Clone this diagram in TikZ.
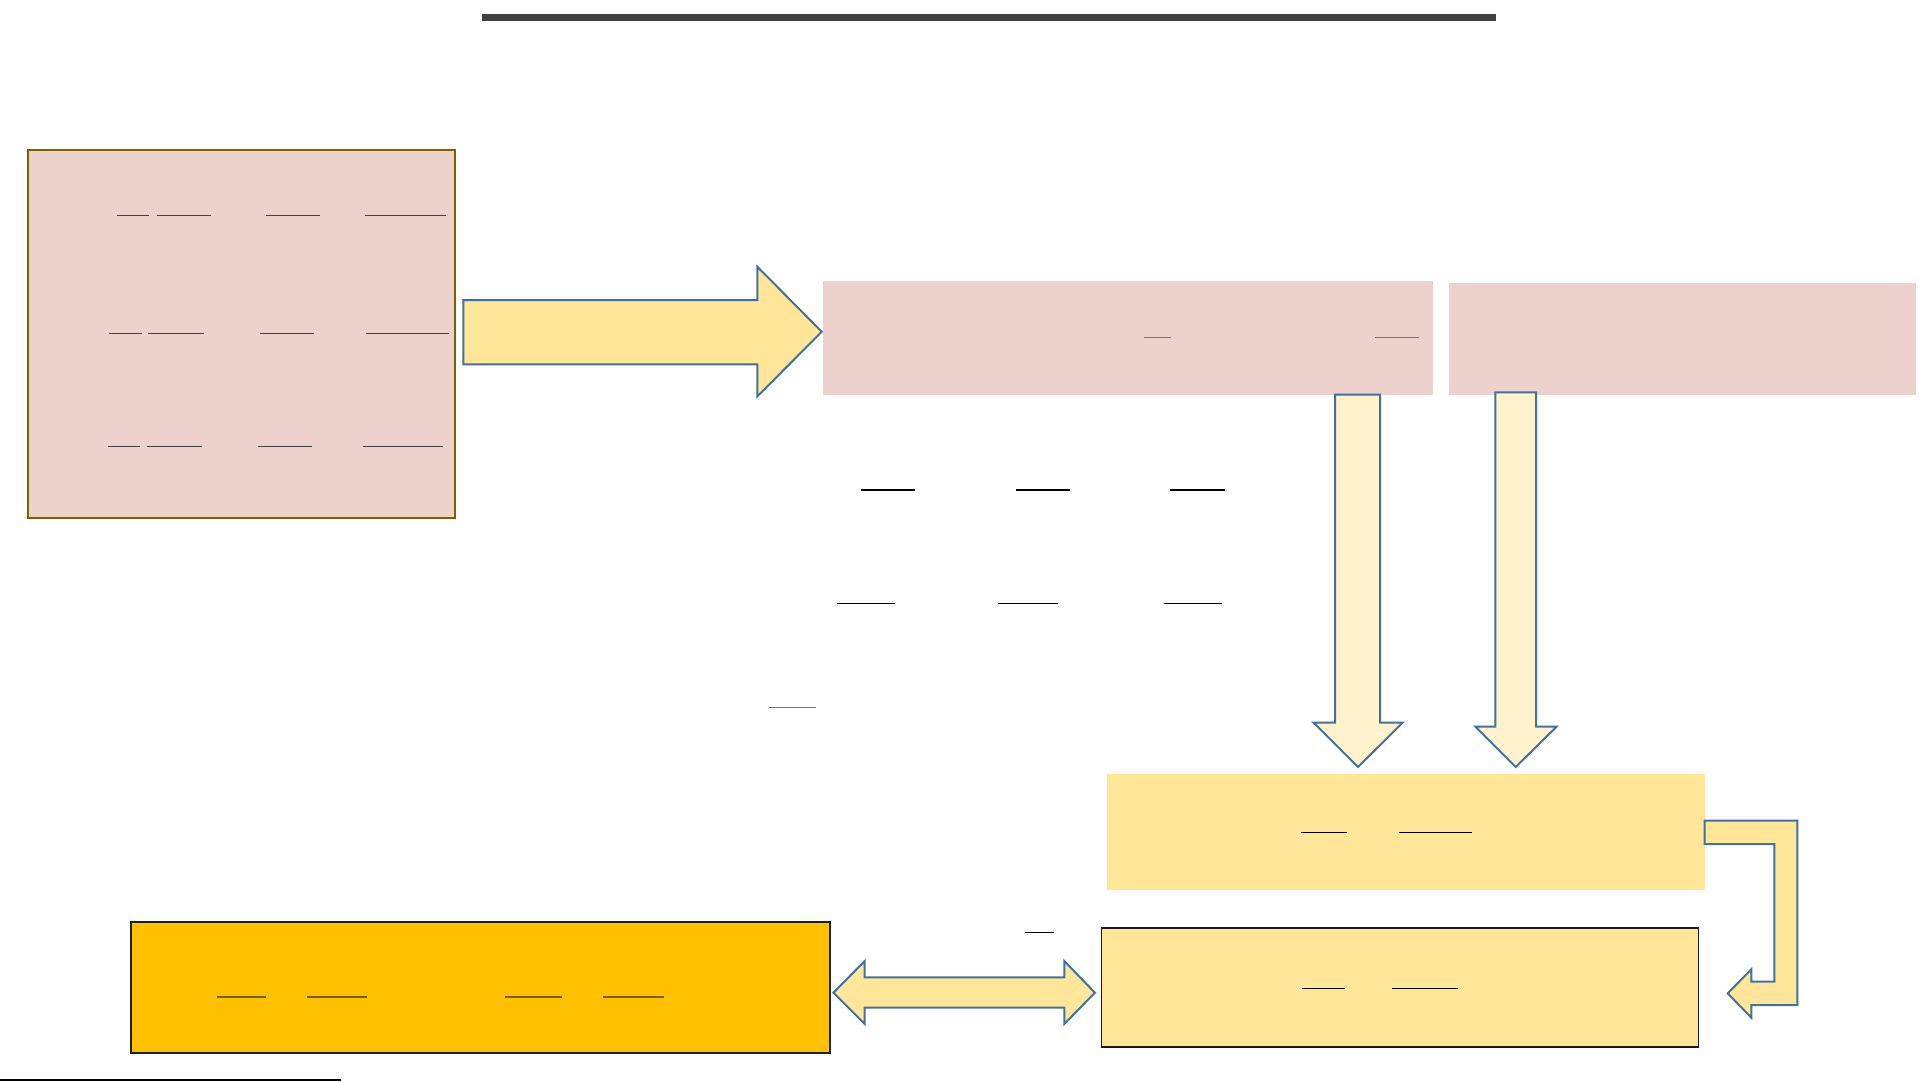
\documentclass[tikz,border=0pt]{standalone}
\usepackage{tikz}
\definecolor{pinkbox}{HTML}{ECD1CD}
\definecolor{yelbox}{HTML}{FFE699}
\definecolor{lightyel}{HTML}{FFF2CC}
\definecolor{orangebox}{HTML}{FFC000}
\definecolor{arrowblue}{HTML}{41719C}
\definecolor{olive}{HTML}{7F6000}
\definecolor{topbar}{HTML}{404040}
\definecolor{ulgray}{HTML}{4A3E3C}
\definecolor{ulbrown}{HTML}{7A5A10}
\tikzset{
  boxstyle/.style={rectangle, anchor=north west, inner sep=0pt, outer sep=0pt},
  blockarrow/.style={draw=arrowblue, line width=2pt, line join=miter},
  uline/.style={line width=1.3pt, black},
}
\begin{document}
\begin{tikzpicture}[x=1pt,y=-1pt]
\useasboundingbox (0,0) rectangle (1921,1081);
% top bar
\fill[topbar] (482,14) rectangle (1496,21);
% bottom-left line
\draw[line width=1.2pt, black] (0,1080) -- (341,1080);

% left pink box
\node[boxstyle, fill=pinkbox, draw=olive, line width=1.8pt, minimum width=427.3pt, minimum height=367.7pt] (leftbox) at (27.7,150) {};
% middle pink box
\node[boxstyle, fill=pinkbox, minimum width=609.6pt, minimum height=113.4pt] (midbox) at (823.3,281.3) {};
% right pink box
\node[boxstyle, fill=pinkbox, minimum width=467.4pt, minimum height=111.7pt] (rightbox) at (1448.6,283) {};
% yellow box A
\node[boxstyle, fill=yelbox, minimum width=597.9pt, minimum height=115.7pt] (boxA) at (1106.8,774) {};
% yellow box B
\node[boxstyle, fill=yelbox, draw=black!90, line width=1.6pt, minimum width=596.8pt, minimum height=119pt] (boxB) at (1101.6,928) {};
% orange box
\node[boxstyle, fill=orangebox, draw=black!88, line width=2pt, minimum width=699pt, minimum height=131.3pt] (orangeB) at (130.6,921.7) {};

% right arrow
\draw[blockarrow, fill=yelbox] (463.3,300) -- (757.3,300) -- (757.3,266.7) -- (821.7,331.7) -- (757.3,396.5) -- (757.3,364.3) -- (463.3,364.3) -- cycle;

% down arrow 1
\draw[blockarrow, fill=lightyel] (1335,394.7) -- (1380,394.7) -- (1380,722.7) -- (1402.6,722.7) -- (1358,767) -- (1313.6,722.7) -- (1335,722.7) -- cycle;
% down arrow 2
\draw[blockarrow, fill=lightyel] (1495.3,392.3) -- (1536.1,392.3) -- (1536.1,726.7) -- (1556.5,726.7) -- (1515.7,767) -- (1475.4,726.7) -- (1495.3,726.7) -- cycle;

% bent arrow
\draw[blockarrow, fill=yelbox] (1704.7,820.7) -- (1797.4,820.7) -- (1797.4,1005) -- (1751.3,1005) -- (1751.3,1017.7) -- (1727.7,993.3) -- (1751.3,969.3) -- (1751.3,981.7) -- (1774.3,981.7) -- (1774.3,844) -- (1704.7,844) -- cycle;

% double arrow
\draw[blockarrow, fill=yelbox] (833.4,992.7) -- (864.7,961) -- (864.7,977.3) -- (1064.3,977.3) -- (1064.3,961) -- (1094.9,992.7) -- (1064.3,1024) -- (1064.3,1007.7) -- (864.7,1007.7) -- (864.7,1024) -- cycle;

% underlines in left box
\begin{scope}[line width=1.4pt, ulgray]
\draw (117,215.7) -- (149.3,215.7); \draw (156.7,215.7) -- (211,215.7);
\draw (266,215.7) -- (319.7,215.7); \draw (364.7,215.7) -- (446,215.7);
\draw (109.3,333.7) -- (141.7,333.7); \draw (148.3,333.7) -- (203.7,333.7);
\draw (260,333.7) -- (314,333.7); \draw (366,333.7) -- (449,333.7);
\draw (108,446.7) -- (140,446.7); \draw (147,446.7) -- (201.7,446.7);
\draw (258,446.7) -- (312,446.7); \draw (363.3,446.7) -- (442.7,446.7);
\end{scope}
% underlines in middle box
\begin{scope}[line width=1.4pt, ulgray!75]
\draw (1143.6,337.7) -- (1170.7,337.7);
\draw (1375,337.7) -- (1418.6,337.7);
\end{scope}
% free underlines
\begin{scope}[uline]
\draw (860.9,490) -- (914.9,490);
\draw (1015.5,490) -- (1069.9,490);
\draw (1170.4,490) -- (1224.5,490);
\draw (837.1,603.3) -- (895,603.3);
\draw (997.9,603.3) -- (1057.8,603.3);
\draw (1163.6,603.3) -- (1222.1,603.3);
\draw (1024.7,932.3) -- (1054,932.3);
\end{scope}
\draw[line width=1.4pt, black!55] (768.9,707.7) -- (816.4,707.7);
% underlines in box A and B
\begin{scope}[uline]
\draw (1300.5,832.3) -- (1346.6,832.3);
\draw (1399,832.3) -- (1472.3,832.3);
\draw (1302,988.3) -- (1344.5,988.3);
\draw (1392.1,988.3) -- (1458.1,988.3);
\end{scope}
% underlines in orange box
\begin{scope}[line width=1.4pt, ulbrown]
\draw (216.7,997) -- (265.8,997);
\draw (307.3,997) -- (367.2,997);
\draw (505,997) -- (561.7,997);
\draw (603.2,997) -- (663.8,997);
\end{scope}
\end{tikzpicture}
\end{document}
